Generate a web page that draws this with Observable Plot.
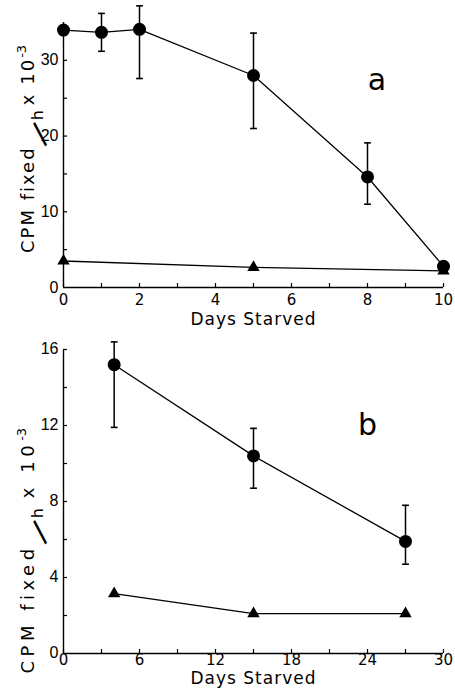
<!DOCTYPE html>
<html>
<head>
<meta charset="utf-8">
<script src="https://cdn.jsdelivr.net/npm/d3@7"></script>
<script src="https://cdn.jsdelivr.net/npm/@observablehq/plot@0.6"></script>
<style>
  html, body { margin: 0; padding: 0; background: #fff; }
  #chart svg { display: block; }
</style>
</head>
<body>
<div id="chart"></div>
<script>
// ---------- Panel a data ----------
const daysA = [0, 1, 2, 5, 8, 10];
const circleA = [34.0, 33.7, 34.1, 28.0, 14.6, 2.8];
const errLoA = [null, 31.2, 27.6, 21.0, 11.0, null];
const errHiA = [null, 36.2, 37.2, 33.6, 19.1, null];
const triDaysA = [0, 5, 10];
const triA = [3.5, 2.65, 2.2];
const xTickLabelsA = [0, 2, 4, 6, 8, 10];
const xMinorTicksA = [0, 1, 2, 3, 4, 5, 6, 7, 8, 9, 10];
const yTickLabelsA = [0, 10, 20, 30];
const yMinorTicksA = [5, 10, 15, 20, 25, 30];

// ---------- Panel b data ----------
const daysB = [4, 15, 27];
const circleB = [15.2, 10.4, 5.9];
const errLoB = [11.9, 8.7, 4.7];
const errHiB = [16.4, 11.85, 7.8];
const triDaysB = [4, 15, 27];
const triB = [3.15, 2.1, 2.1];
const xTickLabelsB = [0, 6, 12, 18, 24, 30];
const xMinorTicksB = [0, 3, 6, 9, 12, 15, 18, 21, 24, 27, 30];
const yTickLabelsB = [0, 4, 8, 12, 16];
const yMinorTicksB = [2, 4, 6, 8, 10, 12, 14, 16];

const xLabel = "Days Starved";
const yLabelKey = "__YLABEL__";

function panel(cfg) {
  const W = 455, mL = 63, mR = 12;
  const plotH = cfg.height - cfg.marginTop - cfg.marginBottom;
  const plotW = W - mL - mR;
  const circles = cfg.days.map((d, i) => ({day: d, v: cfg.circ[i], lo: cfg.lo[i], hi: cfg.hi[i]}));
  const errs = circles.filter(d => d.lo != null);
  const tris = cfg.triDays.map((d, i) => ({day: d, v: cfg.tri[i]}));
  const cap = {draw(ctx, size) { const r = Math.sqrt(size / Math.PI); ctx.moveTo(-r, 0); ctx.lineTo(r, 0); }};

  const svg = Plot.plot({
    width: W, height: cfg.height,
    marginLeft: mL, marginRight: mR, marginTop: cfg.marginTop, marginBottom: cfg.marginBottom,
    x: {domain: cfg.xDomain, axis: null},
    y: {domain: cfg.yDomain, axis: null},
    style: {fontFamily: "'DejaVu Sans', sans-serif", background: "white", color: "black", overflow: "visible"},
    marks: [
      // axes
      Plot.ruleX([cfg.xDomain[0]], {stroke: "black", strokeWidth: 1.4}),
      Plot.ruleY([cfg.yDomain[0]], {stroke: "black", strokeWidth: 1.4}),
      Plot.tickX(cfg.xMinor, {x: d => d, insetTop: plotH - 4, stroke: "black", strokeWidth: 1.2}),
      Plot.tickY(cfg.yMinor, {y: d => d, insetRight: plotW - 4, stroke: "black", strokeWidth: 1.2}),
      Plot.text(cfg.xLabels, {x: d => d, frameAnchor: "bottom", lineAnchor: "middle", dy: cfg.xTickDy, text: d => String(d), fontSize: 15, fill: "black"}),
      Plot.text(cfg.yLabels, {y: d => d, frameAnchor: "left", lineAnchor: "middle", textAnchor: "end", dx: -5, dy: cfg.yTickDy, text: d => String(d), fontSize: 16, fill: "black", fontFamily: "'Liberation Sans', sans-serif"}),
      Plot.text([xLabel], {frameAnchor: "bottom", lineAnchor: "middle", dy: cfg.xLabelDy, fontSize: 17, fill: "black"}),
      Plot.text([yLabelKey], {frameAnchor: "left", lineAnchor: "middle", textAnchor: "start", rotate: -90, dx: -35, dy: cfg.yLabelDy, fontSize: 18, fill: "black"}),
      Plot.text([cfg.letter], {x: d => d.x, y: d => d.y, text: d => d.t, fontSize: 30, fill: "black"}),
      // data
      Plot.ruleX(errs, {x: "day", y1: "lo", y2: "hi", stroke: "black", strokeWidth: 1.5}),
      Plot.dot(errs, {x: "day", y: "lo", symbol: cap, r: 3.4, stroke: "black", strokeWidth: 1.6, fill: "none"}),
      Plot.dot(errs, {x: "day", y: "hi", symbol: cap, r: 3.4, stroke: "black", strokeWidth: 1.6, fill: "none"}),
      Plot.line(circles, {x: "day", y: "v", stroke: "black", strokeWidth: 1.3}),
      Plot.line(tris, {x: "day", y: "v", stroke: "black", strokeWidth: 1.3}),
      Plot.dot(circles, {x: "day", y: "v", r: 6.5, fill: "black", stroke: "none"}),
      Plot.dot(tris, {x: "day", y: "v", symbol: "triangle", r: 4.6, fill: "black", stroke: "none"})
    ]
  });

  // x label letter spacing
  d3.select(svg).selectAll("text").filter(function() { return this.textContent === xLabel; })
    .attr("letter-spacing", 1);

  // rich y label
  const t = d3.select(svg).selectAll("text").filter(function() { return this.textContent === yLabelKey; });
  t.text(null);
  t.append("tspan").attr("letter-spacing", cfg.ls).text("CPM fixed");
  t.append("tspan").attr("font-size", 30).attr("rotate", 45).attr("dx", 2).attr("dy", 9).text("/");
  t.append("tspan").attr("font-size", 16).attr("dx", 14).attr("dy", 0).text("h");
  t.append("tspan").attr("dx", cfg.gap).attr("dy", -9).attr("letter-spacing", cfg.ls).text("x 10");
  t.append("tspan").attr("font-size", 13).attr("dy", -8).text("-3");
  return svg;
}

const chart = document.getElementById("chart");
chart.appendChild(panel({
  height: 330, marginTop: 22, marginBottom: 43,
  xDomain: [0, 10], yDomain: [0, 35],
  days: daysA, circ: circleA, lo: errLoA, hi: errHiA, triDays: triDaysA, tri: triA,
  xLabels: xTickLabelsA, xMinor: xMinorTicksA, yLabels: yTickLabelsA, yMinor: yMinorTicksA,
  xTickDy: 13, yTickDy: 0, xLabelDy: 32, yLabelDy: 98, ls: 2, gap: 5,
  letter: {x: 8.25, y: 27.4, t: "a"}
}));
chart.appendChild(panel({
  height: 364, marginTop: 19, marginBottom: 41,
  xDomain: [0, 30], yDomain: [0, 16],
  days: daysB, circ: circleB, lo: errLoB, hi: errHiB, triDays: triDaysB, tri: triB,
  xLabels: xTickLabelsB, xMinor: xMinorTicksB, yLabels: yTickLabelsB, yMinor: yMinorTicksB,
  xTickDy: 7, yTickDy: -1, xLabelDy: 25, yLabelDy: 172, ls: 4.5, gap: 10,
  letter: {x: 24, y: 12, t: "b"}
}));
</script>
</body>
</html>
